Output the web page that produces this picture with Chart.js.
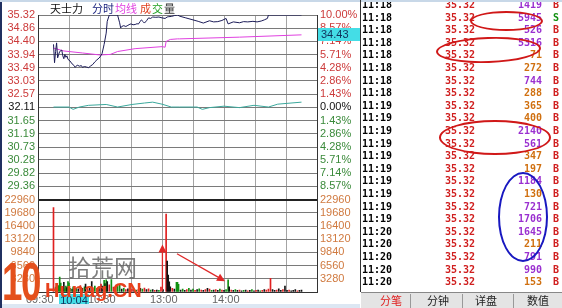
<!DOCTYPE html>
<html>
<head>
<meta charset="utf-8">
<script src="https://cdn.jsdelivr.net/npm/chart.js@4/dist/chart.umd.min.js"></script>
<style>
  html, body { margin: 0; padding: 0; background: #fff; }
  #wrap { position: relative; width: 562px; height: 308px; overflow: hidden; background: #fff; font-family: "Liberation Sans", Arial, sans-serif; }
  #chartBox { position: absolute; left: 0; top: 0; width: 360px; height: 308px; }
  .title { position: absolute; top: 2px; font: 11px/13px "Noto Sans CJK SC", sans-serif; white-space: nowrap; }
  .row { position: absolute; left: 362px; width: 200px; height: 12px; font: bold 10px/12px "DejaVu Sans Mono", monospace; white-space: nowrap; }
  .row span { position: absolute; top: 0; }
  .tabs { position: absolute; left: 361px; top: 292px; width: 201px; height: 16px; background: #e4e4e4; border-top: 1px solid #888; }
  .tab { position: absolute; top: 0; font: 11px/15px "Noto Sans CJK SC", sans-serif; color: #222; }
  .sep { position: absolute; top: 1px; width: 1px; height: 14px; background: #999; }
  .ell { position: absolute; border-radius: 50%; border: 2px solid #d01818; box-sizing: border-box; }
  .wm { position: absolute; white-space: nowrap; pointer-events: none; }
</style>
</head>
<body>
<div id="wrap">
  <div id="chartBox"><canvas id="c" width="360" height="308"></canvas></div>

  <div class="title" style="left:50px;color:#111">天士力</div>
  <div class="title" style="left:92px;color:#1a237e">分时</div>
  <div class="title" style="left:115px;color:#e040e0">均线</div>
  <div class="title" style="left:140px;letter-spacing:1px"><span style="color:#e04020">成</span><span style="color:#20a020">交</span><span style="color:#333">量</span></div>

  <div id="ticks"></div>

  <div class="tabs">
    <div class="tab" style="left:19px;color:#e02020">分笔</div>
    <div class="sep" style="left:49px"></div>
    <div class="tab" style="left:66px">分钟</div>
    <div class="sep" style="left:101px"></div>
    <div class="tab" style="left:114px">详盘</div>
    <div class="sep" style="left:152px"></div>
    <div class="tab" style="left:166px">数值</div>
  </div>

  <!-- 手绘标注圈 -->
  <div class="ell" style="left:470px;top:11px;width:73px;height:20px"></div>
  <div class="ell" style="left:436px;top:37px;width:105px;height:26px;transform:rotate(-2deg)"></div>
  <div class="ell" style="left:439px;top:120px;width:112px;height:35px"></div>
  <div class="ell" style="left:498px;top:172px;width:50px;height:90px;border-color:#1818c0"></div>

  <!-- 水印 -->
  <div class="wm" style="left:2px;top:254px;font:bold 54px/54px 'Liberation Sans',sans-serif;color:#e4501c;transform:scaleX(0.68);transform-origin:left top;letter-spacing:-2px">10</div>
  <div class="wm" style="left:68px;top:255px;font:23px/22px 'Noto Sans CJK SC',sans-serif;color:rgba(105,105,105,0.85)">拾荒网</div>
  <div class="wm" style="left:45px;top:280px;font:bold 20px/20px 'Liberation Sans',sans-serif;color:#e8401c">Hunag.CN</div>

  <div style="position:absolute;left:0;top:0;width:2px;height:308px;background:#203060"></div>
  <div style="position:absolute;left:0;top:0;width:562px;height:2px;background:#c8d8e8"></div>
  <div style="position:absolute;left:2px;top:304px;width:358px;height:4px;background:#dce7f3"></div>
  <div style="position:absolute;left:360px;top:0;width:1px;height:292px;background:#333"></div>
</div>

<script>
// ──────────────── 数据 ────────────────
const prevClose = 32.11;
const priceMin = 28.90, priceMax = 35.32;
const priceLabels = ['35.32', '34.86', '34.40', '33.94', '33.49', '33.03', '32.57', '32.11', '31.65', '31.19', '30.73', '30.28', '29.82', '29.36'];
const pctLabels = ['10.00%', '8.57%', '7.14%', '5.71%', '4.28%', '2.86%', '1.43%', '0.00%', '1.43%', '2.86%', '4.28%', '5.71%', '7.14%', '8.57%'];
const volMax = 22960;
const volLabels = ['22960', '19680', '16400', '13120', '9840', '6560', '3280'];
const timeTickMins = [0, 60, 120, 180];
const timeTickText = ['09:30', '10:30', '13:00', '14:00'];

// 分时价格（分钟序号，价格）
const priceMins = [0, 1, 2, 3, 4, 5, 6, 8, 9, 10, 11, 12, 13, 14, 16, 18, 20, 21, 23, 25, 27, 28, 30, 32, 34, 36, 38, 40, 42, 44, 45, 47, 49, 51, 52, 54, 62, 64, 65, 66, 68, 70, 72, 74, 75, 77, 79, 81, 82, 84, 85, 87, 88, 90, 92, 94, 96, 99, 102, 105, 108, 110, 111, 114, 117, 120, 122, 128, 135, 140, 145, 151, 155, 159, 163, 167, 169, 174, 180, 184, 188, 193, 197, 201, 204, 207, 208, 240];
const priceVals = [34.30, 33.66, 34.05, 34.35, 33.83, 33.95, 34.05, 34.10, 33.90, 33.80, 33.95, 33.85, 33.90, 33.78, 33.72, 33.62, 33.56, 33.50, 33.58, 33.54, 33.56, 33.50, 33.53, 33.51, 33.49, 33.55, 33.60, 33.69, 33.76, 33.82, 33.86, 33.98, 34.30, 34.69, 35.10, 35.32, 35.32, 35.05, 34.87, 34.92, 34.95, 34.92, 34.96, 35.00, 35.01, 34.98, 34.99, 35.02, 35.00, 35.10, 35.15, 35.08, 35.04, 35.12, 35.22, 35.20, 35.25, 35.24, 35.25, 35.22, 35.20, 35.25, 35.26, 35.27, 35.30, 35.32, 35.28, 35.22, 35.15, 35.10, 35.04, 35.12, 35.08, 35.09, 35.13, 35.20, 35.01, 35.08, 35.05, 35.09, 35.08, 35.10, 35.08, 35.11, 35.15, 35.20, 35.32, 35.32];

// 均价线
const avgMins = [0, 10, 28, 45, 55, 62, 79, 105, 108, 109, 113, 120, 122, 180, 240];
const avgVals = [34.17, 34.07, 34.00, 33.93, 33.95, 34.05, 34.15, 34.22, 34.20, 34.40, 34.47, 34.49, 34.49, 34.55, 34.63];

// 领先指标线
const leadMins = [0, 15, 19, 25, 34, 51, 62, 76, 88, 96, 105, 114, 122, 139, 144, 151, 165, 180, 194, 208, 217, 240];
const leadVals = [32.12, 32.12, 32.04, 32.12, 32.18, 32.21, 32.12, 32.21, 32.26, 32.29, 32.22, 32.12, 32.12, 32.12, 32.04, 32.10, 32.15, 32.10, 32.18, 32.12, 32.22, 32.29];

// 成交量（分钟，手数，方向 1涨 -1跌 0平）
const volMins = [0, 2, 3, 5, 6, 7, 8, 10, 11, 12, 13, 14, 15, 16, 18, 19, 20, 22, 24, 26, 28, 30, 31, 33, 35, 37, 38, 40, 42, 44, 46, 47, 49, 50, 51, 52, 54, 56, 58, 60, 62, 64, 66, 68, 70, 72, 74, 76, 78, 80, 82, 84, 86, 88, 90, 92, 94, 96, 98, 100, 102, 104, 106, 109, 110, 111, 112, 113, 115, 117, 119, 120, 121, 123, 125, 127, 129, 131, 133, 135, 137, 139, 141, 143, 145, 147, 149, 151, 153, 155, 157, 159, 161, 163, 165, 167, 169, 170, 172, 174, 176, 178, 180, 182, 184, 186, 188, 190, 192, 194, 196, 198, 200, 202, 204, 206, 208, 210, 212, 214, 216, 218, 220, 222, 224, 226, 228, 230, 232, 234, 236, 238, 240];
const volVals = [21000, 1200, 900, 1600, 3700, 2200, 1400, 2400, 800, 1500, 1100, 2600, 2200, 900, 700, 1300, 600, 1000, 800, 1600, 900, 1300, 2000, 700, 900, 2600, 1100, 1500, 900, 1200, 2000, 1500, 2900, 2100, 3000, 2600, 1800, 3100, 1200, 900, 1400, 1800, 700, 900, 600, 800, 500, 700, 600, 500, 600, 900, 700, 1000, 600, 800, 500, 600, 400, 500, 400, 1200, 600, 19400, 7700, 4200, 2500, 1300, 900, 700, 2400, 2400, 1900, 500, 700, 400, 600, 900, 500, 700, 400, 600, 800, 500, 400, 600, 900, 700, 400, 500, 600, 400, 700, 500, 400, 600, 3000, 1300, 500, 400, 600, 400, 500, 300, 400, 500, 300, 400, 600, 300, 400, 500, 300, 400, 600, 500, 700, 3400, 600, 400, 500, 800, 400, 600, 1500, 400, 500, 300, 400, 600, 300, 400, 500];
const volDirs = [1, -1, 0, -1, -1, -1, 0, 0, -1, -1, 0, -1, -1, -1, 0, -1, 0, -1, 0, 1, 0, -1, 0, 1, 0, 0, 1, -1, 1, 0, 1, 0, -1, 0, -1, 0, 1, -1, 1, 0, -1, -1, 0, -1, 1, 0, -1, 1, 0, -1, 1, 0, -1, 1, 0, 1, -1, 0, 1, 0, -1, 1, 0, 1, 0, 0, 0, 0, 1, 0, -1, -1, -1, 0, -1, 0, 1, -1, 0, -1, 1, 0, -1, 1, 0, 1, 0, 1, -1, 0, 1, 0, -1, 1, 0, -1, -1, 0, 1, 0, -1, 0, 1, 0, -1, 0, 1, 0, -1, 0, 1, 0, -1, 1, 0, 1, 1, 1, 0, 0, 1, 0, 0, 1, 0, 0, 1, 0, 0, 0, 1, 0, 0];

// 图上标注箭头（分钟，成交量）
const arrowFrom = [[105.4, 300], [119.5, 9500]];
const arrowTo = [[105.4, 11800], [166, 2700]];

// 光标提示
const cursorMin = 34, cursorTime = '10:04';
const cursorPrice = 34.43;

// 分笔成交
const tradeTimes = ['11:18', '11:18', '11:18', '11:18', '11:18', '11:18', '11:18', '11:18', '11:19', '11:19', '11:19', '11:19', '11:19', '11:19', '11:19', '11:19', '11:19', '11:19', '11:20', '11:20', '11:20', '11:20', '11:20'];
const tradePrices = ['35.32', '35.32', '35.32', '35.32', '35.32', '35.32', '35.32', '35.32', '35.32', '35.32', '35.32', '35.32', '35.32', '35.32', '35.32', '35.32', '35.32', '35.32', '35.32', '35.32', '35.32', '35.32', '35.32'];
const tradeVols = [1419, 5945, 526, 5316, 71, 272, 744, 288, 365, 400, 2140, 561, 347, 197, 1184, 130, 721, 1706, 1645, 211, 791, 990, 153];
const tradeSides = ['B', 'S', 'B', 'B', 'B', 'B', 'B', 'B', 'B', 'B', 'B', 'B', 'B', 'B', 'B', 'B', 'B', 'B', 'B', 'B', 'B', 'B', 'B'];

// ──────────────── 颜色 ────────────────
const RED = '#cc3a3a', GREEN = '#3a8a3a', VOLC = '#d07a40';
const dirColor = d => d > 0 ? '#e02020' : d < 0 ? '#109010' : '#111';
const pts = (xs, ys) => xs.map((x, i) => ({ x, y: ys[i] }));

// ──────────────── 分笔表 ────────────────
let html = '';
tradeTimes.forEach((t, i) => {
  const top = Math.round(5 + i * 12.6 - 6);
  const vc = tradeVols[i] >= 500 ? '#9a30d0' : '#d07010';
  const sc = tradeSides[i] === 'S' ? '#109010' : '#d02020';
  html += `<div class="row" style="top:${top}px">
    <span style="left:0;color:#000">${t}</span>
    <span style="left:83px;color:#d02020">${tradePrices[i]}</span>
    <span style="right:20px;color:${vc}">${tradeVols[i]}</span>
    <span style="left:191px;color:${sc}">${tradeSides[i]}</span>
  </div>`;
});
document.getElementById('ticks').innerHTML = html;

// ──────────────── 标注插件 ────────────────
function drawArrow(ctx, x0, y0, x1, y1) {
  const a = Math.atan2(y1 - y0, x1 - x0);
  ctx.beginPath();
  ctx.moveTo(x0, y0);
  ctx.lineTo(x1 - 6 * Math.cos(a), y1 - 6 * Math.sin(a));
  ctx.stroke();
  ctx.beginPath();
  ctx.moveTo(x1, y1);
  ctx.lineTo(x1 - 8 * Math.cos(a) + 4 * Math.sin(a), y1 - 8 * Math.sin(a) - 4 * Math.cos(a));
  ctx.lineTo(x1 - 8 * Math.cos(a) - 4 * Math.sin(a), y1 - 8 * Math.sin(a) + 4 * Math.cos(a));
  ctx.closePath();
  ctx.fill();
}

const marks = {
  id: 'marks',
  afterDraw(chart) {
    const { ctx, chartArea } = chart;
    const { x, yVol, yPrice } = chart.scales;
    ctx.save();
    ctx.strokeStyle = ctx.fillStyle = '#e02828';
    ctx.lineWidth = 1.3;
    arrowFrom.forEach((f, i) => {
      const t = arrowTo[i];
      drawArrow(ctx, x.getPixelForValue(f[0]), yVol.getPixelForValue(f[1]), x.getPixelForValue(t[0]), yVol.getPixelForValue(t[1]));
    });
    // 时间光标
    const cx = Math.round(x.getPixelForValue(cursorMin));
    ctx.fillStyle = '#44dde6';
    ctx.fillRect(cx - 30, chartArea.bottom + 2, 30, 12);
    ctx.fillStyle = '#10305a';
    ctx.font = '11px "Liberation Sans"';
    ctx.textAlign = 'center';
    ctx.textBaseline = 'middle';
    ctx.fillText(cursorTime, cx - 15, chartArea.bottom + 8.5);
    // 价格光标
    const py = Math.round(yPrice.getPixelForValue(cursorPrice));
    ctx.fillStyle = '#44dde6';
    ctx.fillRect(chartArea.right + 1, py - 13, 44, 13);
    ctx.fillStyle = '#10305a';
    ctx.textAlign = 'left';
    ctx.fillText(cursorPrice.toFixed(2), chartArea.right + 4, py - 6);
    ctx.restore();
  }
};

// ──────────────── 图表 ────────────────
const font = { family: '"Liberation Sans", Arial, sans-serif', size: 11 };
const hGrid = '#7a7a7a';

// 左侧堆叠轴按反序排布：先写 yVol 再写 yPrice，价格区才会在上面
new Chart(document.getElementById('c'), {
  type: 'line',
  data: {
    datasets: [
      { type: 'bar', yAxisID: 'yVol', data: pts(volMins, volVals), backgroundColor: volDirs.map(dirColor), barThickness: 1, grouped: false, order: 4 },
      { yAxisID: 'yPrice', data: pts(leadMins, leadVals), borderColor: '#3aa89c', borderWidth: 1, pointRadius: 0, order: 3 },
      { yAxisID: 'yPrice', data: pts(avgMins, avgVals), borderColor: '#e040e0', borderWidth: 1, pointRadius: 0, order: 2 },
      { yAxisID: 'yPrice', data: pts(priceMins, priceVals), borderColor: '#1c1c58', borderWidth: 1, pointRadius: 0, order: 1 },
    ]
  },
  options: {
    responsive: false,
    animation: false,
    devicePixelRatio: 1,
    layout: { padding: { top: 15, left: 0, right: 0, bottom: 0 } },
    plugins: { legend: { display: false }, tooltip: { enabled: false } },
    scales: {
      x: {
        type: 'linear', min: 0, max: 240, position: 'bottom',
        afterBuildTicks: s => { s.ticks = [0, 30, 60, 90, 120, 150, 180, 210, 240].map(v => ({ value: v })); },
        afterFit: s => { s.height = 16; },
        ticks: {
          autoSkip: false, maxRotation: 0, align: 'end', padding: 1, color: '#666', font,
          callback: v => { const i = timeTickMins.indexOf(v); return i >= 0 ? timeTickText[i] : ''; }
        },
        grid: { color: '#a4a4a4', drawTicks: false },
        border: { color: '#333' }
      },
      yVol: {
        type: 'linear', position: 'left', stack: 'L', stackWeight: 7, min: 0, max: volMax,
        afterBuildTicks: s => { s.ticks = volLabels.map(l => ({ value: +l })).concat([{ value: 0 }]); },
        afterFit: s => { s.width = 38; },
        ticks: { autoSkip: false, padding: 3, font, color: VOLC, callback: (v, i) => volLabels[i] || '' },
        grid: { drawTicks: false, color: c => c.tick && c.tick.value === volMax ? '#222' : hGrid, lineWidth: c => c.tick && c.tick.value === volMax ? 2 : 1 },
        border: { color: '#333' }
      },
      yPrice: {
        type: 'linear', position: 'left', stack: 'L', stackWeight: 14, min: priceMin, max: priceMax,
        afterBuildTicks: s => { s.ticks = priceLabels.map(l => ({ value: parseFloat(l) })).concat([{ value: priceMin }]); },
        afterFit: s => { s.width = 38; },
        ticks: {
          autoSkip: false, padding: 3, font,
          callback: (v, i) => priceLabels[i] || '',
          color: c => c.tick.value > prevClose + 0.001 ? RED : c.tick.value < prevClose - 0.001 ? GREEN : '#111'
        },
        grid: { drawTicks: false, color: c => c.tick && c.tick.value === priceMin ? '#222' : hGrid, lineWidth: c => c.tick && c.tick.value === priceMin ? 2 : 1 },
        border: { color: '#333' }
      },
      yPct: {
        type: 'linear', position: 'right', stack: 'R', stackWeight: 14, min: -10, max: 10,
        afterBuildTicks: s => { s.ticks = pctLabels.map((l, i) => ({ value: i > 7 ? -parseFloat(l) : parseFloat(l) })); },
        afterFit: s => { s.width = 43; },
        ticks: {
          autoSkip: false, padding: 3, font,
          callback: (v, i) => pctLabels[i] || '',
          color: c => c.tick.value > 0.001 ? RED : c.tick.value < -0.001 ? GREEN : '#111'
        },
        grid: { display: false, drawTicks: false },
        border: { color: '#333' }
      },
      yVolR: {
        type: 'linear', position: 'right', stack: 'R', stackWeight: 7, min: 0, max: volMax,
        afterBuildTicks: s => { s.ticks = volLabels.map(l => ({ value: +l })); },
        afterFit: s => { s.width = 43; },
        ticks: { autoSkip: false, padding: 3, font, color: VOLC, callback: (v, i) => volLabels[i] || '' },
        grid: { display: false, drawTicks: false },
        border: { color: '#333' }
      }
    }
  },
  plugins: [marks]
});
</script>
</body>
</html>
